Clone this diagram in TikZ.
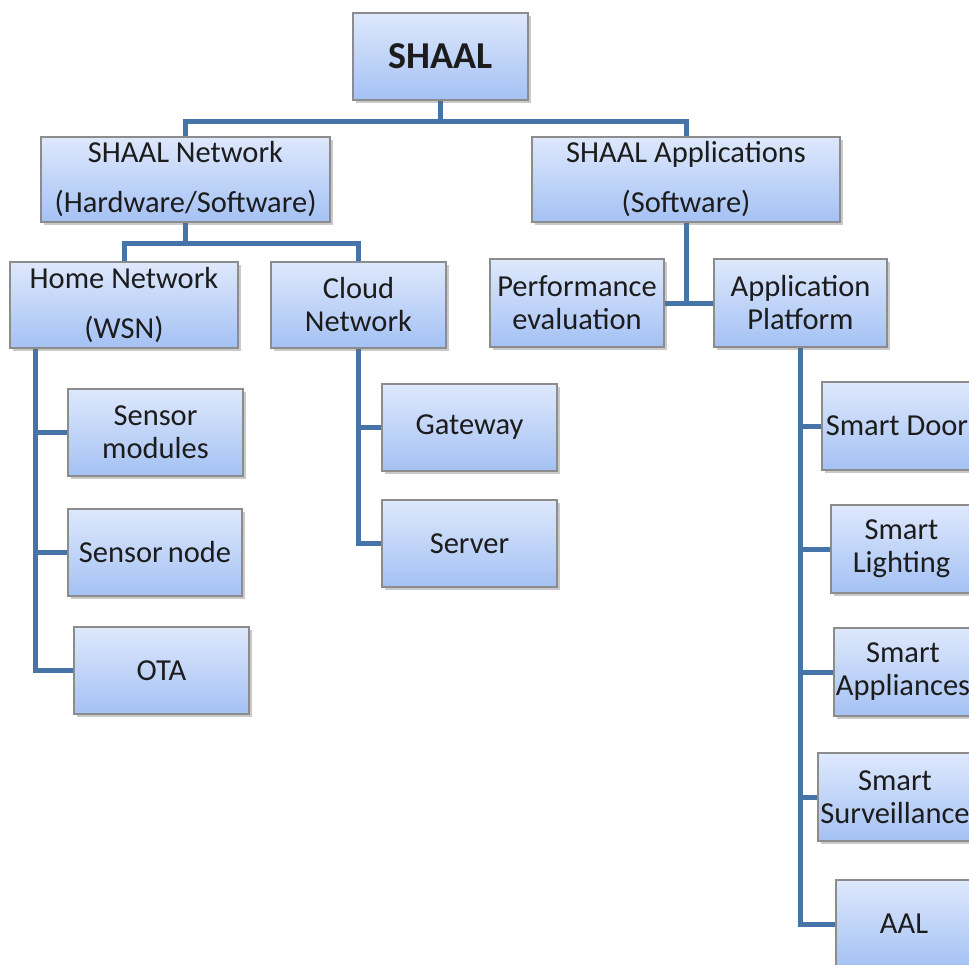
\documentclass[tikz,border=0pt]{standalone}
\usepackage{fontspec}
\setmainfont{Carlito}
\usetikzlibrary{shadows,backgrounds}
\definecolor{boxtop}{RGB}{222,232,252}
\definecolor{boxbot}{RGB}{164,193,244}
\definecolor{boxedge}{RGB}{140,140,140}
\definecolor{linkblue}{RGB}{71,116,168}
\definecolor{txt}{RGB}{28,28,28}
\tikzset{
  box/.style={draw=boxedge, line width=1.3pt, top color=boxtop, bottom color=boxbot,
    inner xsep=0pt, inner ysep=2pt, align=center, text=txt,
    font=\fontsize{30.5}{33}\selectfont,
    drop shadow={shadow xshift=3pt, shadow yshift=-3pt, opacity=0.35, fill=black!60}},
  link/.style={draw=linkblue, line width=5pt}
}
\begin{document}
\begin{tikzpicture}[x=1pt,y=-1pt]
\useasboundingbox (0,0) rectangle (969,964);
\clip (0,0) rectangle (969,964);

% root
\node[box, minimum width=175, minimum height=87, font=\fontsize{38}{40}\selectfont\bfseries] (shaal) at (440.5,56.5) {SHAAL};

% second level
\node[box, minimum width=289, minimum height=85] (net) at (185.5,179.5) {SHAAL Network\\[17pt](Hardware/Software)};
\node[box, minimum width=308, minimum height=85] (apps) at (686,179.5) {SHAAL Applications\\[17pt](Software)};

% network branch
\node[box, minimum width=228, minimum height=86] (home) at (124,305) {Home Network\\[17pt](WSN)};
\node[box, minimum width=175, minimum height=86] (cloud) at (358.5,305) {Cloud\\Network};
\node[box, minimum width=175, minimum height=87] (smod) at (155.5,432.5) {Sensor\\modules};
\node[box, minimum width=174, minimum height=87] (snode) at (155,552.5) {Sensor\,node};
\node[box, minimum width=175, minimum height=87] (ota) at (161.5,670.5) {OTA};
\node[box, minimum width=175, minimum height=87] (gw) at (469.5,427.5) {Gateway};
\node[box, minimum width=175, minimum height=87] (srv) at (469.5,543.5) {Server};

% applications branch
\node[box, minimum width=174, minimum height=88] (perf) at (577,303) {Performance\\evaluation};
\node[box, minimum width=173, minimum height=88] (plat) at (800.5,303) {Application\\Platform};
\node[box, minimum width=150, minimum height=88] (door) at (897,426) {Smart Door};
\node[box, minimum width=141, minimum height=88] (light) at (901.5,549) {Smart\\Lighting};
\node[box, minimum width=138, minimum height=88] (appl) at (903,672) {Smart\\Appliances};
\node[box, minimum width=154, minimum height=88] (surv) at (895,797) {Smart\\Surveillance};
\node[box, minimum width=136, minimum height=88] (aal) at (904,924) {AAL};

% junction points of the tree
\coordinate (j0) at (440.5,121);
\coordinate (j1) at (185.5,243);
\coordinate (hx) at (35,348);

\begin{pgfonlayer}{background}
  \fill[white] (0,0) rectangle (969,964);
  % root to second level
  \draw[link] (shaal.south) -- (j0);
  \draw[link] (net.north) |- (j0) -| (apps.north);
  % network to home / cloud
  \draw[link] (net.south) -- (j1);
  \draw[link] (home.north) |- (j1) -| (cloud.north);
  % home network children
  \draw[link] (hx) |- (ota.west);
  \draw[link] (hx |- smod.west) -- (smod.west);
  \draw[link] (hx |- snode.west) -- (snode.west);
  % cloud network children
  \draw[link] (cloud.south) |- (srv.west);
  \draw[link] (cloud.south |- gw.west) -- (gw.west);
  % applications
  \draw[link] (apps.south) -- (apps.south |- perf.east);
  \draw[link] (perf.east) -- (plat.west);
  % application platform children
  \draw[link] (plat.south) |- (aal.west);
  \draw[link] (plat.south |- door.west) -- (door.west);
  \draw[link] (plat.south |- light.west) -- (light.west);
  \draw[link] (plat.south |- appl.west) -- (appl.west);
  \draw[link] (plat.south |- surv.west) -- (surv.west);
\end{pgfonlayer}
\end{tikzpicture}
\end{document}
